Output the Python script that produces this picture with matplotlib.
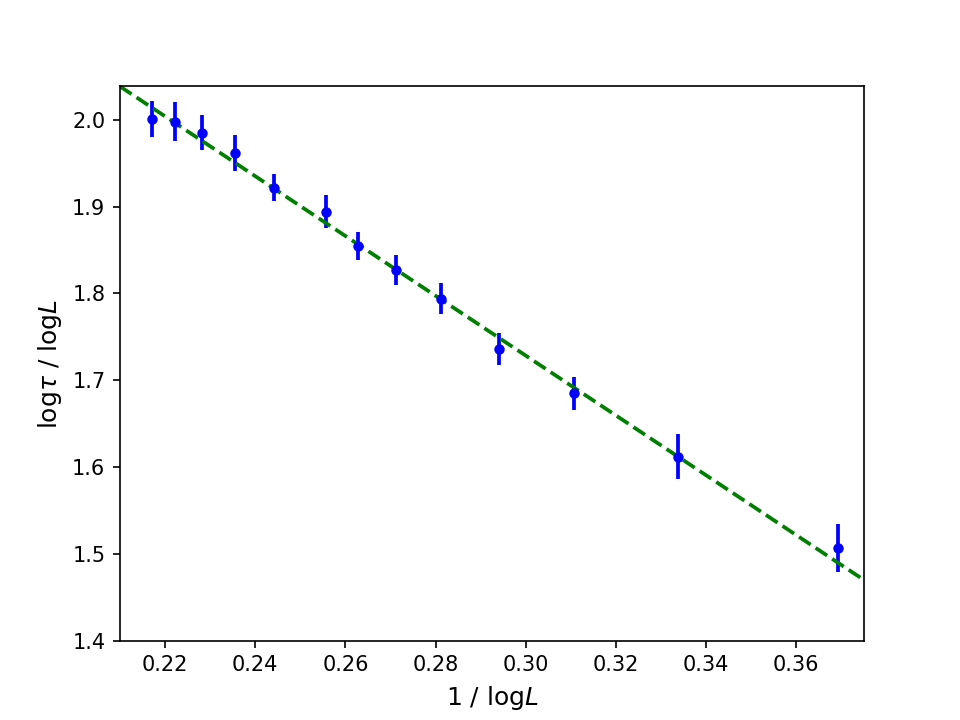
import numpy as np
import matplotlib
matplotlib.use('Agg')
import matplotlib.pyplot as plt

# 1/log L
inv_log_L = [0.2171, 0.2222, 0.2282, 0.2354, 0.2442, 0.2556, 0.2627,
             0.2711, 0.2813, 0.2940, 0.3107, 0.3338, 0.3693]
# log tau / log L
log_ratio = [2.001, 1.998, 1.985, 1.962, 1.922, 1.894, 1.855,
             1.827, 1.794, 1.736, 1.685, 1.612, 1.507]
errors = [0.021, 0.022, 0.020, 0.021, 0.016, 0.019, 0.016,
          0.017, 0.018, 0.018, 0.019, 0.026, 0.028]

# fitted line
slope = -3.445
intercept = 2.7619


def main():
    fig = plt.figure(figsize=(6.4, 4.8), dpi=150)
    ax = fig.add_subplot(111)

    ax.errorbar(inv_log_L, log_ratio, yerr=errors, fmt='o', color='b',
                markersize=4, elinewidth=1.8)

    xfit = np.array([0.21, 0.375])
    ax.plot(xfit, slope * xfit + intercept, 'g--', linewidth=1.8)

    ax.set_xlim(0.21, 0.375)
    ax.set_ylim(1.4, 2.0385)
    ax.set_xlabel(r'1 / log$L$', fontsize=12)
    ax.set_ylabel(r'log$\tau$ / log$L$', fontsize=12)

    fig.savefig('out.png', dpi=150)


if __name__ == "__main__":
    main()
